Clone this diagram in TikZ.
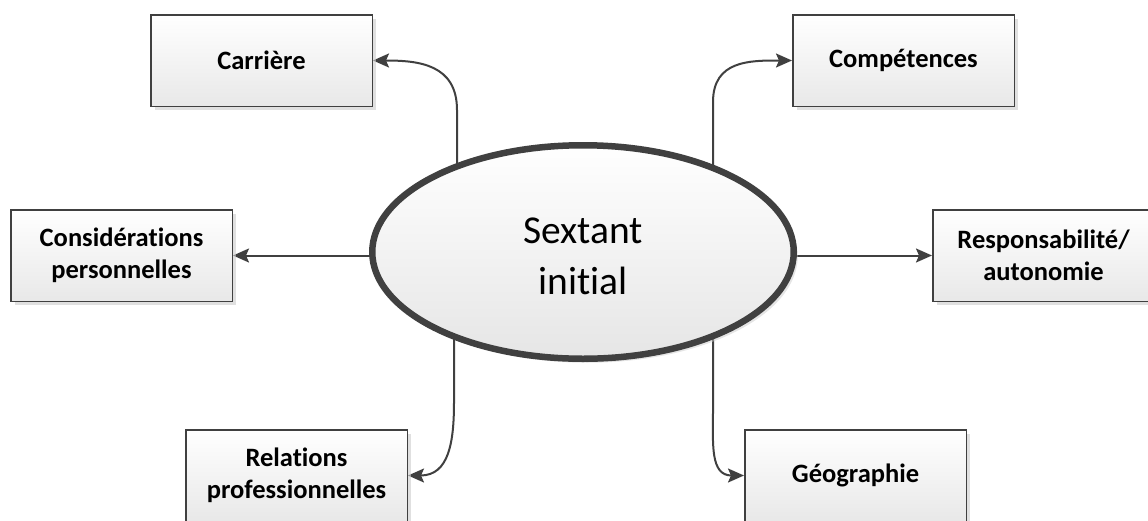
\documentclass[tikz,border=0pt]{standalone}
\usepackage{fontspec}
\setmainfont{Carlito}[Ligatures={NoCommon}]
\usetikzlibrary{arrows.meta,shadows,backgrounds,calc,shapes.geometric}
\definecolor{edgegray}{HTML}{404040}
\begin{document}
\begin{tikzpicture}[x=1pt,y=1pt,
  boxshadow/.style={drop shadow={shadow xshift=4pt,shadow yshift=-4pt,fill=black!20,opacity=0.6}},
  box/.style={draw=edgegray,line width=1.5pt,top color=white,bottom color=black!9,
    minimum width=221.5pt,minimum height=91.5pt,inner sep=0pt,align=center,
    font=\fontsize{26.5}{32}\selectfont\bfseries,boxshadow},
  conn/.style={draw=edgegray,line width=2pt,-{Stealth[length=16pt,width=14pt,inset=3pt]}}]
\useasboundingbox (0,0) rectangle (1148,-520);

\node[ellipse,draw=edgegray,line width=6.5pt,top color=white,bottom color=black!10,
  minimum width=421.5pt,minimum height=213.5pt,inner sep=0pt,
  drop shadow={shadow xshift=4pt,shadow yshift=-4pt,fill=black!20,opacity=0.5}]
  (ell) at (583,-252) {};
\node[align=center,font=\fontsize{39.5}{51}\selectfont,inner sep=0pt]
  (elltext) at ($(ell.center)+(0,-4)$) {Sextant\\initial};

\node[box] (carr) at (261.5,-60.5) {Carrière};
\node[box] (comp) at (903.5,-60.5) {Compétences};
\node[box] (cons) at (121.5,-255.5) {Considérations\\personnelles};
\node[box] (resp) at (1043.5,-255.5) {Responsabilité/\\autonomie};
\node[box] (rel) at (296.5,-475.5) {Relations\\professionnelles};
\node[box] (geo) at (855.5,-475.5) {Géographie};

\begin{scope}[on background layer]
\draw[conn] ($(ell.center)+(-126,0)$) -- ++(0,142) to[out=90,in=0,looseness=1.2] (carr.east);
\draw[conn] ($(ell.center)+(130,0)$) -- ++(0,150) to[out=90,in=180,looseness=1.2] (comp.west);
\draw[conn] (ell.center |- cons.east) -- (cons.east);
\draw[conn] (ell.center |- resp.west) -- (resp.west);
\draw[conn] ($(ell.center)+(-129,0)$) -- ++(0,-150) to[out=-90,in=0,looseness=1.2] (rel.east);
\draw[conn] ($(ell.center)+(130,0)$) -- ++(0,-158) to[out=-90,in=180,looseness=1.2] (geo.west);
\end{scope}
\end{tikzpicture}
\end{document}
